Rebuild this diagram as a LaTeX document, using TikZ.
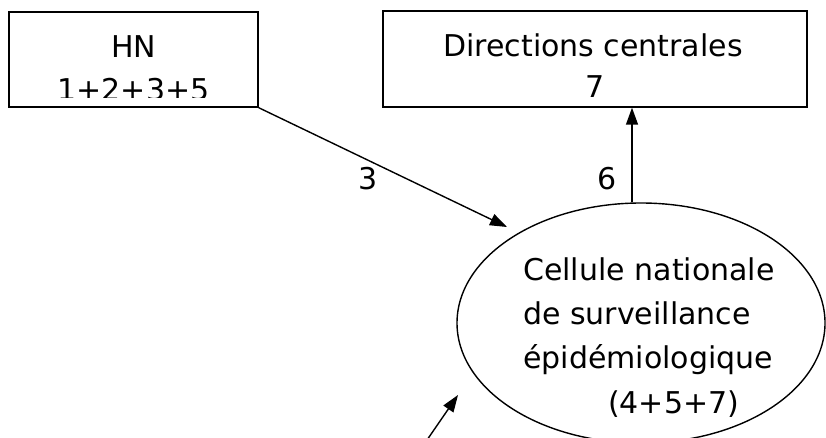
\documentclass[tikz,border=0pt]{standalone}
\usepackage{fontspec}
\setmainfont{DejaVu Sans}
\usetikzlibrary{arrows.meta,shapes.geometric}
\begin{document}
\begin{tikzpicture}[x=1pt,y=-1pt,
  every node/.style={font=\fontsize{30}{44}\selectfont},
  box/.style={draw,line width=1.4pt,rectangle,inner sep=0pt},
  oval/.style={draw,line width=1.4pt,ellipse,inner sep=0pt,minimum width=368pt,minimum height=240pt},
  arr/.style={line width=1.4pt,-{Triangle[length=17pt,width=12pt]}},
  lbl/.style={inner sep=0pt}]
\useasboundingbox (0,0) rectangle (826,438);
\clip (0,0) rectangle (826,438);
\node[box,minimum width=249pt,minimum height=95pt] (hn) at (133.5,59.5) {};
\begin{scope}
  \clip (10,13) rectangle (257,97.5);
  \node[lbl,anchor=base] (hnt) at (133.5,58) {HN};
  \node[lbl,anchor=base] (hnn) at (133.5,101) {1+2+3+5};
\end{scope}
\node[box,minimum width=424pt,minimum height=96pt] (dir) at (595,59) {};
\node[lbl,anchor=base] (dirt) at (593,57) {Directions centrales};
\node[lbl,anchor=base] (dirn) at (595,98) {7};
\node[oval] (cell) at (641,323) {};
\node[lbl,anchor=base west] (c1) at (523,280) {Cellule nationale};
\node[lbl,anchor=base west] (c2) at (523,324) {de surveillance};
\node[lbl,anchor=base west] (c3) at (523,368) {épidémiologique};
\node[lbl,anchor=base west] (c4) at (608,413) {(4+5+7)};
\coordinate (t3) at (507,227);
\draw[arr] (hn.south east) -- (t3);
\node[lbl,anchor=base] (l3) at (368,190) {3};
\draw[arr] (cell.north) ++(-9,0) coordinate (u) -- (u |- dir.south);
\node[lbl,anchor=base] (l6) at (607,190) {6};
\coordinate (b0) at (427,440);
\coordinate (b1) at (458,395);
\draw[arr] (b0) -- (b1);
\end{tikzpicture}
\end{document}
